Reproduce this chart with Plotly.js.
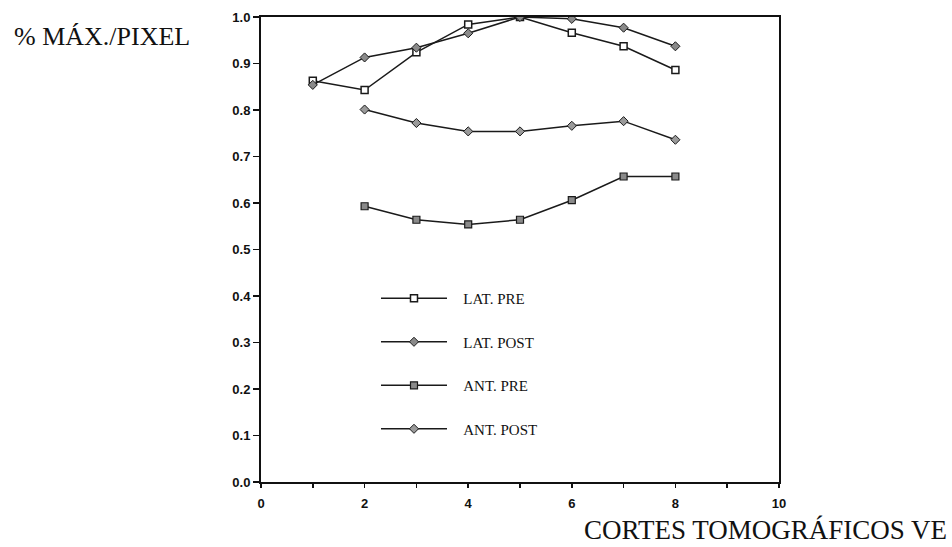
<!DOCTYPE html>
<html>
<head>
<meta charset="utf-8">
<script src="https://cdn.plot.ly/plotly-3.0.1.min.js"></script>
<style>html,body{margin:0;padding:0;background:#fff;}#chart{width:952px;height:547px;}</style>
</head>
<body>
<div id="chart"></div>
<script>
const cortes = [1, 2, 3, 4, 5, 6, 7, 8];
const cortesPost = [2, 3, 4, 5, 6, 7, 8];
const latPre = [0.863, 0.843, 0.924, 0.984, 1.0, 0.966, 0.937, 0.886];
const latPost = [0.854, 0.913, 0.934, 0.965, 1.0, 0.996, 0.977, 0.937];
const antPre = [0.593, 0.564, 0.554, 0.564, 0.606, 0.657, 0.657];
const antPost = [0.801, 0.772, 0.754, 0.754, 0.766, 0.776, 0.736];
const seriesNames = ['LAT. PRE', 'LAT. POST', 'ANT. PRE', 'ANT. POST'];
const xTickVals = [0, 1, 2, 3, 4, 5, 6, 7, 8, 9, 10];
const xTickText = ['0', '', '2', '', '4', '', '6', '', '8', '', '10'];
const yTickVals = [0, 0.1, 0.2, 0.3, 0.4, 0.5, 0.6, 0.7, 0.8, 0.9, 1.0];
const yTickText = ['0.0', '0.1', '0.2', '0.3', '0.4', '0.5', '0.6', '0.7', '0.8', '0.9', '1.0'];

const pad = '\u00A0\u00A0\u00A0';
const lineStyle = {color: '#1a1a1a', width: 1.5};
const traces = [
  {x: cortes, y: latPre, name: pad + seriesNames[0], legendgroup: 'a', mode: 'lines+markers', line: lineStyle,
   marker: {symbol: 'square', size: 7, color: '#ffffff', line: {color: '#1a1a1a', width: 1.5}}},
  {x: cortes, y: latPost, name: pad + seriesNames[1], legendgroup: 'b', mode: 'lines+markers', line: lineStyle,
   marker: {symbol: 'diamond', size: 7, color: '#8a8a8a', line: {color: '#1a1a1a', width: 1}}},
  {x: cortesPost, y: antPre, name: pad + seriesNames[2], legendgroup: 'c', mode: 'lines+markers', line: lineStyle,
   marker: {symbol: 'square', size: 7, color: '#8a8a8a', line: {color: '#1a1a1a', width: 1.2}}},
  {x: cortesPost, y: antPost, name: pad + seriesNames[3], legendgroup: 'd', mode: 'lines+markers', line: lineStyle,
   marker: {symbol: 'diamond', size: 7, color: '#9a9a9a', line: {color: '#1a1a1a', width: 1}}}
];

const tickFont = {family: 'Liberation Sans, Arial, sans-serif', size: 13, color: '#111', weight: 'bold'};
const layout = {
  width: 952, height: 547,
  margin: {l: 261, r: 173, t: 17, b: 65},
  paper_bgcolor: '#ffffff', plot_bgcolor: '#ffffff',
  showlegend: true,
  legend: {x: 0.222, y: 0.43, xanchor: 'left', yanchor: 'top', bgcolor: 'rgba(0,0,0,0)',
           font: {family: 'Liberation Serif, Times New Roman, serif', size: 15, color: '#111'},
           tracegroupgap: 21, itemwidth: 66, traceorder: 'grouped'},
  xaxis: {range: [0, 10], tickmode: 'array', tickvals: xTickVals, ticktext: xTickText,
          ticks: 'outside', ticklen: 4, tickwidth: 1.5, tickcolor: '#111', ticklabelstandoff: 4,
          showgrid: false, zeroline: false, showline: true, linecolor: '#111', linewidth: 2, mirror: true,
          tickfont: tickFont},
  yaxis: {range: [0, 1.0], tickmode: 'array', tickvals: yTickVals, ticktext: yTickText,
          ticks: 'outside', ticklen: 6, tickwidth: 1.5, tickcolor: '#111',
          showgrid: false, zeroline: false, showline: true, linecolor: '#111', linewidth: 2, mirror: true,
          tickfont: tickFont},
  annotations: [
    {text: '% MÁX./PIXEL', xref: 'paper', yref: 'paper', x: -0.481, y: 0.957, xanchor: 'left', yanchor: 'middle',
     showarrow: false, font: {family: 'Liberation Serif, Times New Roman, serif', size: 26, color: '#111'}},
    {text: 'CORTES TOMOGRÁFICOS VE', xref: 'paper', yref: 'paper', x: 0.62, y: -0.104, xanchor: 'left', yanchor: 'middle',
     showarrow: false, font: {family: 'Liberation Serif, Times New Roman, serif', size: 27, color: '#111'}}
  ]
};

Plotly.newPlot('chart', traces, layout, {displayModeBar: false, staticPlot: true});
</script>
</body>
</html>
